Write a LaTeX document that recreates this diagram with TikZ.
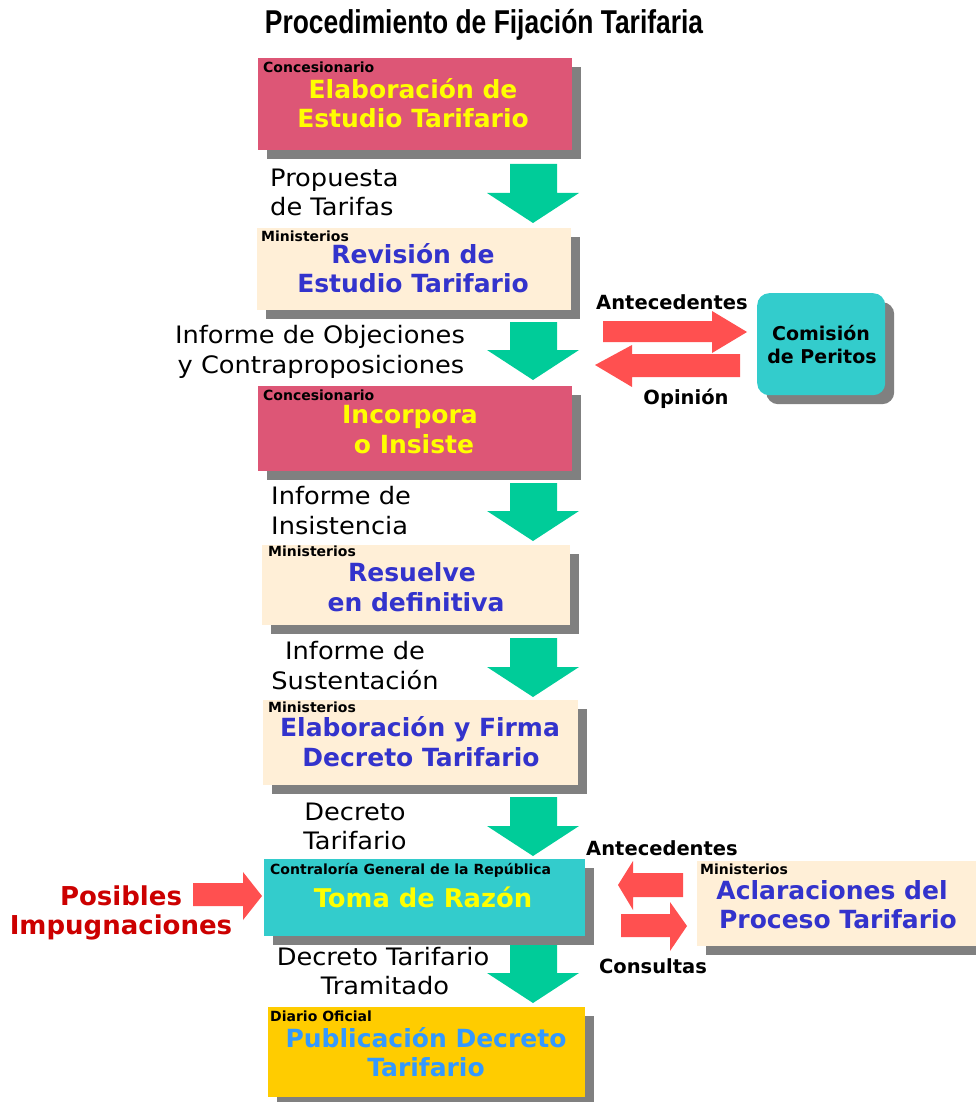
\documentclass[tikz,border=0pt]{standalone}
\usepackage{fontspec}
\setmainfont{DejaVu Sans}
\newfontfamily\titlefont[FakeStretch=0.8]{Liberation Sans}
\newfontfamily\widefont[FakeStretch=1.07]{DejaVu Sans}
\usetikzlibrary{shadows}
\definecolor{pinkc}{HTML}{DD5676}
\definecolor{creamc}{HTML}{FFEFD7}
\definecolor{tealc}{HTML}{33CCCC}
\definecolor{goldc}{HTML}{FFCC00}
\definecolor{greenc}{HTML}{00CC99}
\definecolor{redc}{HTML}{FF5050}
\definecolor{shadowc}{HTML}{808080}
\definecolor{yellowc}{HTML}{FFFF00}
\definecolor{bluec}{HTML}{3333CC}
\definecolor{lightbluec}{HTML}{3399FF}
\definecolor{darkredc}{HTML}{CC0000}
\newcommand\greenarrow[2]{% top y, tip y
  \fill[greenc] (510,#1) -- (557,#1) -- (557,{#2-30}) -- (579,{#2-30}) -- (533,#2)
    -- (487,{#2-30}) -- (510,{#2-30}) -- cycle;}
\begin{document}
\begin{tikzpicture}[x=1pt,y=-1pt,
  box/.style={rectangle, inner sep=0pt, anchor=north west,
    drop shadow={shadow xshift=9pt, shadow yshift=-9pt, fill=shadowc, opacity=1}},
  tag/.style={anchor=base west, inner sep=0pt, font=\fontsize{14}{16}\selectfont\bfseries},
  maintext/.style={anchor=base, inner sep=0pt, font=\fontsize{25}{29}\selectfont\bfseries},
  lbl/.style={anchor=base, inner sep=0pt, font=\widefont\fontsize{24}{30}\selectfont},
  lblw/.style={anchor=base west, inner sep=0pt, font=\widefont\fontsize{24}{30}\selectfont},
  blbl/.style={anchor=base, inner sep=0pt, font=\fontsize{19.5}{22}\selectfont\bfseries},
  redarrow/.style={fill=redc}]
\useasboundingbox (0,0) rectangle (976,1102);

% title
\node[anchor=base, inner sep=0pt, font=\titlefont\bfseries\fontsize{33}{36}\selectfont] (title) at (484,34) {Procedimiento de Fijación Tarifaria};

% boxes
\node[box, fill=pinkc, minimum width=314pt, minimum height=92pt] (b1) at (258,58) {};
\node[box, fill=creamc, minimum width=314pt, minimum height=82pt] (b2) at (257,228) {};
\node[box, fill=pinkc, minimum width=314pt, minimum height=85pt] (b3) at (258,386) {};
\node[box, fill=creamc, minimum width=308pt, minimum height=80pt] (b4) at (262,545) {};
\node[box, fill=creamc, minimum width=315pt, minimum height=85pt] (b5) at (263,700) {};
\node[box, fill=tealc, minimum width=321pt, minimum height=77pt] (b6) at (264,859) {};
\node[box, fill=goldc, minimum width=317pt, minimum height=90pt] (b7) at (268,1007) {};
\node[box, fill=creamc, minimum width=300pt, minimum height=85pt] (bacl) at (697,861) {};
\node[box, fill=tealc, rounded corners=12pt, minimum width=128pt, minimum height=102pt] (bcom) at (757,293) {};

% box texts
\node[tag] (t1) at (263,72.5) {Concesionario};
\node[maintext, text=yellowc] (m1a) at (413,99) {Elaboración de};
\node[maintext, text=yellowc] (m1b) at (413,128) {Estudio Tarifario};

\node[tag] (t2) at (261,241) {Ministerios};
\node[maintext, text=bluec] (m2a) at (413,263) {Revisión de};
\node[maintext, text=bluec] (m2b) at (413,292) {Estudio Tarifario};

\node[tag] (t3) at (263,400) {Concesionario};
\node[maintext, text=yellowc] (m3a) at (410,423) {Incorpora};
\node[maintext, text=yellowc] (m3b) at (414,453) {o Insiste};

\node[tag] (t4) at (268,556) {Ministerios};
\node[maintext, text=bluec] (m4a) at (412,581) {Resuelve};
\node[maintext, text=bluec] (m4b) at (416,611) {en definitiva};

\node[tag] (t5) at (268,712) {Ministerios};
\node[maintext, text=bluec] (m5a) at (420,736) {Elaboración y Firma};
\node[maintext, text=bluec] (m5b) at (421,766) {Decreto Tarifario};

\node[tag] (t6) at (270,874) {Contraloría General de la República};
\node[maintext, text=yellowc, font=\fontsize{25.8}{29}\selectfont\bfseries] (m6) at (423,907) {Toma de Razón};

\node[tag] (t7) at (270,1021) {Diario Oficial};
\node[maintext, text=lightbluec] (m7a) at (426,1047) {Publicación Decreto};
\node[maintext, text=lightbluec] (m7b) at (426,1076) {Tarifario};

\node[tag] (tacl) at (700,874) {Ministerios};
\node[maintext, text=bluec] (macla) at (832,899) {Aclaraciones del};
\node[maintext, text=bluec] (maclb) at (838,928) {Proceso Tarifario};

\node[anchor=base, inner sep=0pt, font=\fontsize{19}{23}\selectfont\bfseries] (mcoma) at (821,340) {Comisión};
\node[anchor=base, inner sep=0pt, font=\fontsize{19}{23}\selectfont\bfseries] (mcomb) at (822,363) {de Peritos};

% green arrows
\greenarrow{164}{223}
\greenarrow{322}{380}
\greenarrow{483}{541}
\greenarrow{638}{697}
\greenarrow{797}{856}
\greenarrow{945}{1003}

% arrow labels
\node[lblw] (l1a) at (270,186) {Propuesta};
\node[lblw] (l1b) at (270,215) {de Tarifas};
\node[lbl] (l2a) at (320,343) {Informe de Objeciones};
\node[lbl] (l2b) at (321,373) {y Contraproposiciones};
\node[lblw] (l3a) at (271,504) {Informe de};
\node[lblw] (l3b) at (271,534) {Insistencia};
\node[lbl] (l4a) at (355,659) {Informe de};
\node[lbl] (l4b) at (355,689) {Sustentación};
\node[lbl] (l5a) at (355,820) {Decreto};
\node[lbl] (l5b) at (355,849) {Tarifario};
\node[lbl] (l6a) at (383,965) {Decreto Tarifario};
\node[lbl] (l6b) at (385,994) {Tramitado};

% red arrows
\fill[redarrow] (603,321) -- (712,321) -- (712,311) -- (747,332) -- (712,353) -- (712,342) -- (603,342) -- cycle;
\fill[redarrow] (740,354) -- (632,354) -- (632,345) -- (595,365) -- (632,387) -- (632,377) -- (740,377) -- cycle;
\fill[redarrow] (193,883) -- (243,883) -- (243,872) -- (262,896) -- (243,920) -- (243,906) -- (193,906) -- cycle;
\fill[redarrow] (683,873) -- (633,873) -- (633,861) -- (618,885) -- (633,910) -- (633,897) -- (683,897) -- cycle;
\fill[redarrow] (621,914) -- (670,914) -- (670,902) -- (687,926) -- (670,951) -- (670,937) -- (621,937) -- cycle;

\node[blbl] (ant1) at (672,309) {Antecedentes};
\node[blbl] (opi) at (686,404) {Opinión};
\node[blbl] (ant2) at (662,855) {Antecedentes};
\node[blbl] (con) at (653,973) {Consultas};

\node[anchor=base, inner sep=0pt, text=darkredc, font=\fontsize{26}{29}\selectfont\bfseries] (pos1) at (121,905) {Posibles};
\node[anchor=base, inner sep=0pt, text=darkredc, font=\fontsize{26}{29}\selectfont\bfseries] (pos2) at (121,934) {Impugnaciones};
\end{tikzpicture}
\end{document}
